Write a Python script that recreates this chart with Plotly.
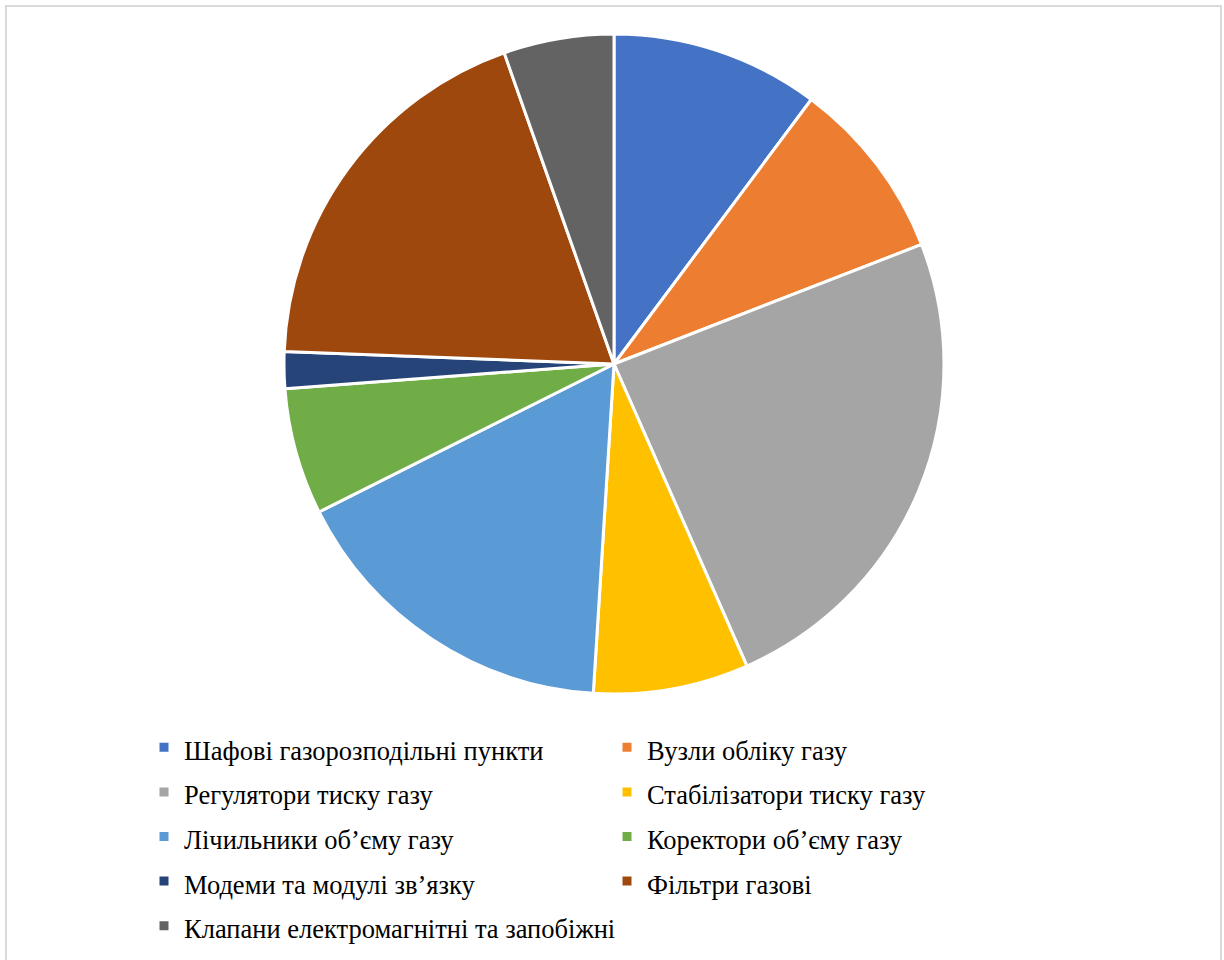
import plotly.graph_objects as go

# Equipment categories and their shares (%)
categories = [
    "Шафові газорозподільні пункти",
    "Вузли обліку газу",
    "Регулятори тиску газу",
    "Стабілізатори тиску газу",
    "Лічильники об’єму газу",
    "Коректори об’єму газу",
    "Модеми та модулі зв’язку",
    "Фільтри газові",
    "Клапани електромагнітні та запобіжні",
]
shares = [10.2, 8.9, 24.3, 7.6, 16.6, 6.2, 1.8, 19.0, 5.4]
colors = [
    "#4472C4", "#ED7D31", "#A5A5A5", "#FFC000", "#5B9BD5",
    "#70AD47", "#264478", "#9E480E", "#636363",
]

W, H = 1224, 960
cx, cy, r = 614, 364, 330
SERIF = "Liberation Serif"

# Legend rows are spaced by the legend font size; label text itself is drawn smaller
label_size = 26.5
legend_labels = [f'<span style="font-size:{label_size}px">{c}</span>' for c in categories]

fig = go.Figure(
    go.Pie(
        labels=legend_labels,
        values=shares,
        customdata=categories,
        sort=False,
        direction="clockwise",
        rotation=0,
        textinfo="none",
        hovertemplate="%{customdata}: %{percent}<extra></extra>",
        marker=dict(colors=colors, line=dict(color="white", width=3)),
        domain=dict(
            x=[(cx - r) / W, (cx + r) / W],
            y=[1 - (cy + r) / H, 1 - (cy - r) / H],
        ),
    )
)

fig.update_layout(
    width=W,
    height=H,
    margin=dict(l=0, r=0, t=0, b=0),
    paper_bgcolor="white",
    font=dict(family=SERIF, color="#000000"),
    legend=dict(
        orientation="h",
        x=144 / W,
        xanchor="left",
        y=1 - 720 / H,
        yanchor="top",
        entrywidth=418,
        entrywidthmode="pixels",
        font=dict(family=SERIF, size=32, color="#000000"),
    ),
    shapes=[
        dict(
            type="rect", xref="paper", yref="paper",
            x0=6 / W, x1=1221 / W, y0=-0.05, y1=1 - 6 / H,
            line=dict(color="#D9D9D9", width=2),
        )
    ],
)

fig.write_html("out.html")
